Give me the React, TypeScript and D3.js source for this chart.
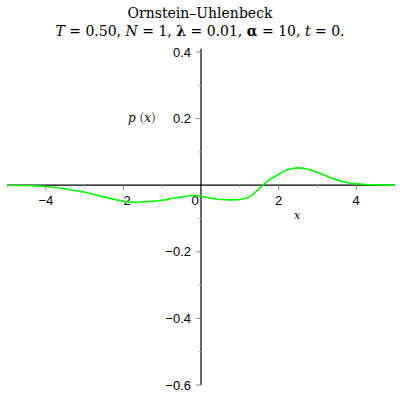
import React, { useEffect, useRef } from "react";
import * as d3 from "d3";

// step 0.25
const xValues = [
  -5, -4.75, -4.5, -4.25, -4, -3.75, -3.5, -3.25, -3, -2.75, -2.5, -2.25, -2, -1.75,
  -1.5, -1.25, -1, -0.75, -0.5, -0.25, 0, 0.25, 0.5, 0.75, 1, 1.25, 1.5, 1.75, 2,
  2.25, 2.5, 2.75, 3, 3.25, 3.5, 3.75, 4, 4.25, 4.5, 4.75, 5
];
const pValues = [
  -0.001, -0.001, -0.001, -0.002, -0.004, -0.007, -0.011, -0.016, -0.021, -0.028,
  -0.035, -0.042, -0.048, -0.051, -0.05, -0.048, -0.045, -0.04, -0.035, -0.031,
  -0.033, -0.039, -0.043, -0.044, -0.043, -0.035, -0.01, 0.015, 0.033, 0.047,
  0.052, 0.048, 0.039, 0.027, 0.016, 0.008, 0.004, 0.002, 0.001, 0.0005, 0
];

const xTicks = [-4, -2, 0, 2, 4];
const xMinorTicks = [-5, -3, -1, 1, 3, 5];
const yTicks = [0.4, 0.2, -0.2, -0.4, -0.6];
const yMinorTicks = [0.3, 0.1, -0.1, -0.3, -0.5];

const App: React.FC = () => {
  const ref = useRef<SVGSVGElement | null>(null);

  useEffect(() => {
    if (!ref.current) return;
    const svg = d3.select(ref.current);
    svg.selectAll("*").remove();

    const x = d3.scaleLinear().domain([-5, 5]).range([7, 395]);
    const y = d3.scaleLinear().domain([-0.6, 0.4]).range([385, 52]);
    const x0 = x(0);
    const y0 = y(0);

    const fmt = (v: number) => (v < 0 ? "\u2212" : "") + Math.abs(v).toString();

    // title
    const title = svg.append("text")
      .attr("x", 200)
      .attr("text-anchor", "middle")
      .attr("font-family", "'DejaVu Serif', serif")
      .attr("font-size", 14);
    title.append("tspan").attr("x", 200).attr("y", 18).text("Ornstein\u2013Uhlenbeck");
    const l2 = title.append("tspan").attr("x", 200).attr("y", 36);
    l2.append("tspan").attr("font-style", "italic").text("T");
    l2.append("tspan").text(" = 0.50, ");
    l2.append("tspan").attr("font-style", "italic").text("N");
    l2.append("tspan").text(" = 1, ");
    l2.append("tspan").attr("font-weight", "bold").text("\u03bb");
    l2.append("tspan").text(" = 0.01, ");
    l2.append("tspan").attr("font-weight", "bold").text("\u03b1");
    l2.append("tspan").text(" = 10, ");
    l2.append("tspan").attr("font-style", "italic").text("t");
    l2.append("tspan").text(" = 0.");

    // axes lines
    svg.append("line")
      .attr("x1", x(-5)).attr("x2", x(5))
      .attr("y1", y0).attr("y2", y0)
      .attr("stroke", "#000").attr("stroke-width", 1.2);
    svg.append("line")
      .attr("x1", x0).attr("x2", x0)
      .attr("y1", y(0.41)).attr("y2", y(-0.6))
      .attr("stroke", "#000").attr("stroke-width", 1.2);

    // y ticks
    svg.selectAll(".ytick")
      .data(yTicks)
      .enter()
      .append("line")
      .attr("x1", x0 - 5).attr("x2", x0)
      .attr("y1", d => y(d)).attr("y2", d => y(d))
      .attr("stroke", "#888");
    svg.selectAll(".yminor")
      .data(yMinorTicks)
      .enter()
      .append("line")
      .attr("x1", x0 - 3).attr("x2", x0)
      .attr("y1", d => y(d)).attr("y2", d => y(d))
      .attr("stroke", "#bbb");
    svg.selectAll(".ylab")
      .data(yTicks)
      .enter()
      .append("text")
      .attr("x", x0 - 10)
      .attr("y", d => y(d) + 4.5)
      .attr("text-anchor", "end")
      .attr("font-family", "'Liberation Sans', Arial, sans-serif")
      .attr("font-size", 13)
      .text(d => fmt(d));

    // x ticks
    svg.selectAll(".xtick")
      .data(xTicks.filter(d => d !== 0))
      .enter()
      .append("line")
      .attr("x1", d => x(d)).attr("x2", d => x(d))
      .attr("y1", y0).attr("y2", y0 + 5)
      .attr("stroke", "#888");
    svg.selectAll(".xminor")
      .data(xMinorTicks)
      .enter()
      .append("line")
      .attr("x1", d => x(d)).attr("x2", d => x(d))
      .attr("y1", y0).attr("y2", y0 + 3)
      .attr("stroke", "#bbb");
    svg.selectAll(".xlab")
      .data(xTicks)
      .enter()
      .append("text")
      .attr("x", d => (d === 0 ? x(d) - 6 : x(d)))
      .attr("y", y0 + 20)
      .attr("text-anchor", "middle")
      .attr("font-family", "'Liberation Sans', Arial, sans-serif")
      .attr("font-size", 13)
      .text(d => fmt(d));

    // axis labels
    const pl = svg.append("text")
      .attr("x", 128).attr("y", 122)
      .attr("font-family", "'DejaVu Serif', serif")
      .attr("font-size", 12);
    pl.append("tspan").attr("font-style", "italic").text("p");
    pl.append("tspan").attr("fill", "#555").text(" (");
    pl.append("tspan").attr("font-style", "italic").text("x");
    pl.append("tspan").attr("fill", "#555").text(")");

    svg.append("text")
      .attr("x", 294).attr("y", 219)
      .attr("font-family", "'DejaVu Serif', serif")
      .attr("font-style", "italic")
      .attr("font-size", 11)
      .text("x");

    // curve
    const pts: [number, number][] = xValues.map((v, i) => [v, pValues[i]]);
    const line = d3.line<[number, number]>()
      .x(d => x(d[0]))
      .y(d => y(d[1]))
      .curve(d3.curveCatmullRom);
    svg.append("path")
      .datum(pts)
      .attr("d", line)
      .attr("fill", "none")
      .attr("stroke", "#00ff00")
      .attr("stroke-width", 1.6);
  }, []);

  return (
    <svg
      ref={ref}
      width={400}
      height={400}
      style={{ position: "absolute", left: 0, top: 0, background: "#fff" }}
    />
  );
};

export default App;
